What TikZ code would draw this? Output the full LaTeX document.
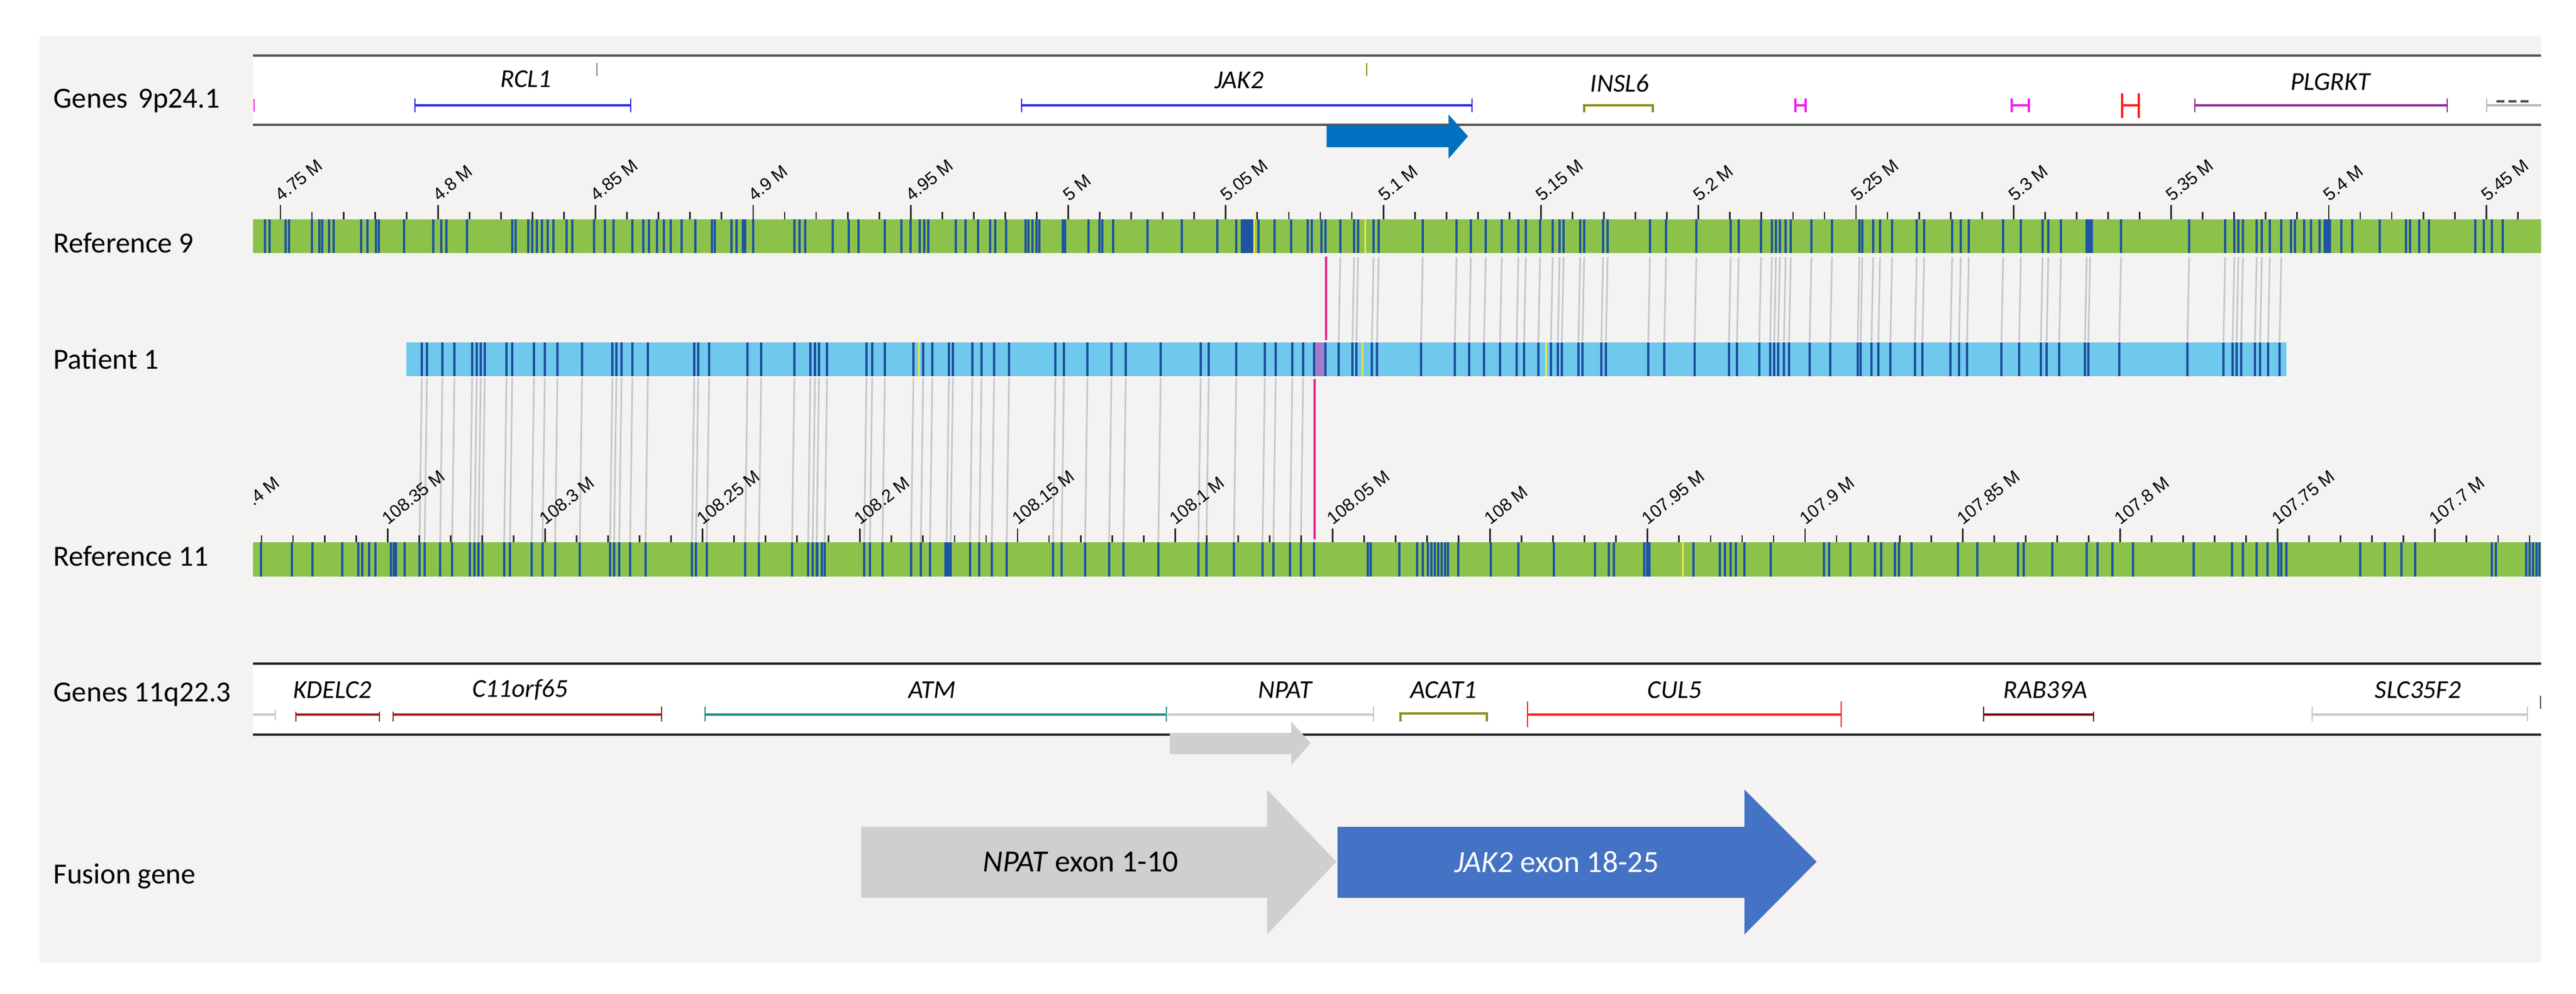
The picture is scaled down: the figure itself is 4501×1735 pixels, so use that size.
\documentclass[tikz,border=0pt]{standalone}
\usepackage{fontspec}
\usepackage{graphicx}
\setmainfont{Carlito}
\newfontfamily\arialf{Liberation Sans}
\definecolor{panel}{HTML}{F4F3F1}
\definecolor{refgreen}{HTML}{8DC24A}
\definecolor{markblue}{HTML}{1E55A3}
\definecolor{patblue}{HTML}{6FC9EC}
\definecolor{patmark}{HTML}{1D4E9E}
\definecolor{alngray}{HTML}{C6C6C6}
\definecolor{brkpink}{HTML}{EE2590}
\definecolor{brkpurple}{HTML}{A27BC9}
\definecolor{mkyellow}{HTML}{EEE54A}
\definecolor{genblue}{HTML}{2A2AF0}
\definecolor{genmag}{HTML}{F020F0}
\definecolor{genolive}{HTML}{8E8E1C}
\definecolor{genred}{HTML}{FF2020}
\definecolor{genpurple}{HTML}{902C90}
\definecolor{gendred}{HTML}{A01E1E}
\definecolor{genteal}{HTML}{1C8C8C}
\definecolor{genlgray}{HTML}{C8C8C8}
\definecolor{gendkred}{HTML}{7E0A0A}
\definecolor{arrowblue}{HTML}{0070C0}
\definecolor{fusgray}{HTML}{CFCFD0}
\definecolor{fusblue}{HTML}{4472C4}
\definecolor{tickc}{HTML}{2A2A2A}
\definecolor{boxlineA}{HTML}{555555}
\definecolor{boxlineB}{HTML}{222222}

\def\refnineonly{463,471,499,505,545,558,563,575,583,631,642,657,662,706,757,771,780,816,895,901,923,930,938,947,957,967,990,1000,1038,1057,1072,1105,1124,1134,1148,1160,1172,1191,1215,1244,1249,1278,1287,1298,1302,1316,1388,1397,1407,1455,1483,1500,1546,1575,1591,1607,1615,1622,1670,1687,1709,1730,1739,1758,1792,1797,1804,1811,1816,1857,1861,1902,1921,1926,1945,2005,2065,2127,2160,2199,2227,2256,2285,2292,2309,2316,4003,4010,4026,4038,4053,4091,4110,4158,4204,4211,4227,4244,4325,4340,4354,4373}
\def\sharednine{2342,2366,2373,2400,2409,2486,2545,2570,2596,2624,2653,2666,2691,2713,2725,2732,2761,2768,2801,2809,2883,2911,2964,3024,3038,3077,3096,3103,3110,3120,3129,3165,3201,3249,3254,3273,3285,3306,3349,3362,3411,3426,3440,3500,3531,3569,3579,3601,3646,3652,3706,3825,3888,3904,3911,3919,3943,3952,3966,3986}
\def\sharedeleven{737,746,773,794,825,833,840,847,885,895,933,952,974,1017,1070,1077,1086,1105,1132,1213,1220,1239,1306,1330,1388,1416,1424,1431,1445,1514,1524,1546,1596,1613,1629,1658,1665,1699,1715,1737,1763,1844,1859,1900,1942,1967,2028,2098,2112,2160,2210,2229,2258,2277}
\def\refelevenonly{456,510,546,598,626,633,645,656,683,688,692,707,1420,1428,1436,1441,2296,2390,2395,2445,2476,2486,2495,2501,2507,2513,2519,2525,2530,2548,2605,2653,2715,2787,2811,2820,2873,2878,2882,2959,3005,3014,3024,3033,3048,3094,3187,3196,3233,3276,3287,3311,3318,3340,3421,3455,3526,3536,3586,3646,3665,3691,3727,3833,3900,3919,3943,3962,3981,3986,3995,4124,4167,4196,4220,4354,4361,4414,4420,4426,4432,4437}

\begin{document}
\begin{tikzpicture}[x=0.01cm,y=-0.01cm,
  rowlab/.style={anchor=base west,inner sep=0pt,font=\fontsize{14.5pt}{17pt}\selectfont},
  genelab/.style={inner sep=0pt,font=\fontsize{12.8pt}{15pt}\selectfont\itshape},
  ticklab/.style={anchor=base west,inner sep=0pt,font=\arialf\fontsize{8.8pt}{10pt}\selectfont},
  tickline/.style={draw=tickc,line width=0.8pt},
  genebar/.style={line width=1.15pt},
  genecap/.style={line width=0.7pt},
  alnline/.style={draw=alngray,line width=0.8pt},
  brkline/.style={draw=brkpink,line width=0.9pt},
  fustext/.style={inner sep=0pt,font=\fontsize{15.3pt}{18pt}\selectfont}]
\useasboundingbox (0,0) rectangle (4501,1735);
\fill[white] (0,0) rectangle (4501,1735);
\fill[panel] (69,63) rectangle (4440,1681);

% ---------- Genes 9p24.1 box ----------
\fill[white] (442,97) rectangle (4440,218);
\draw[boxlineA,line width=1.1pt] (442,97) -- (4440,97);
\draw[boxlineA,line width=1.1pt] (442,218) -- (4440,218);
\draw[genmag,line width=0.8pt] (444,173) -- (444,195);
\draw[genebar,genblue] (725,184) -- (1102,184);
\draw[genecap,genblue] (725,172) -- (725,196) (1102,172) -- (1102,196);
\draw[genecap,gray] (1043,110) -- (1043,133);
\draw[genebar,genblue] (1785,184) -- (2572,184);
\draw[genecap,genblue] (1785,172) -- (1785,196) (2572,172) -- (2572,196);
\draw[genecap,genolive] (2388,110) -- (2388,133);
\draw[genebar,genolive] (2768,196) -- (2768,184) -- (2888,184) -- (2888,196);
\draw[genebar,genmag] (3137,184) -- (3155,184);
\draw[genecap,genmag,line width=1pt] (3137,172) -- (3137,196) (3155,172) -- (3155,196);
\draw[genebar,genmag] (3515,184) -- (3545,184);
\draw[genecap,genmag,line width=1pt] (3515,172) -- (3515,196) (3545,172) -- (3545,196);
\draw[genebar,genred] (3708,184) -- (3737,184);
\draw[genecap,genred,line width=1pt] (3708,163) -- (3708,206) (3737,163) -- (3737,206);
\draw[genebar,genpurple] (3835,184) -- (4276,184);
\draw[genecap,genpurple] (3835,172) -- (3835,196) (4276,172) -- (4276,196);
\draw[genebar,genlgray!80!gray] (4345,184) -- (4440,184);
\draw[genecap,genlgray!80!gray] (4345,172) -- (4345,196);
\draw[black!70,line width=0.9pt,dash pattern=on 4pt off 2pt] (4362,177) -- (4420,177);
\node[genelab] (rcl1) at (919,138) {RCL1};
\node[genelab] (jak2) at (2165,140) {JAK2};
\node[genelab] (insl6) at (2830,145) {INSL6};
\node[genelab] (plgrkt) at (4072,143) {PLGRKT};
\fill[arrowblue] (2318,220) -- (2531,220) -- (2531,200) -- (2565,238) -- (2531,277) -- (2531,257) -- (2318,257) -- cycle;

% ---------- Reference 9 ----------
\fill[refgreen] (442,383) rectangle (4440,442);
\foreach \x in \refnineonly {\fill[markblue] (\x-2,383) rectangle (\x+2,442);}
\foreach \x in \sharednine {\fill[markblue] (\x-2,383) rectangle (\x+2,442);}
\fill[markblue] (2168,383) rectangle (2190,442);
\fill[markblue] (3644,383) rectangle (3657,442);
\fill[markblue] (4060,383) rectangle (4073,442);
\fill[mkyellow] (2190,383) rectangle (2193,442);
\fill[mkyellow] (2384,383) rectangle (2387,442);
\foreach \k in {0,...,71}{
  \pgfmathsetmacro\tx{490+55.06*\k}
  \pgfmathtruncatemacro\mj{mod(\k,5)==0}
  \ifnum\mj=1 \draw[tickline] (\tx,358) -- (\tx,383); \else \draw[tickline] (\tx,370) -- (\tx,383); \fi
}
\foreach \i/\lab in {0/4.75,1/4.8,2/4.85,3/4.9,4/4.95,5/5,6/5.05,7/5.1,8/5.15,9/5.2,10/5.25,11/5.3,12/5.35,13/5.4,14/5.45}
  \node[ticklab] (tnine\i) at ({490+275.3*\i-12},352) {\rotatebox{38.5}{\lab{} M}};

% ---------- Patient 1 ----------
\foreach \x in \sharednine {\draw[alnline] (\x,449) -- (\x-3,596);}
\foreach \x in \sharedeleven {\draw[alnline] (\x,660) -- (\x-4,946);}
\fill[patblue] (710,598) rectangle (3995,657);
\foreach \x in \sharednine {\fill[patmark] (\x-5,598) rectangle (\x-1,657);}
\foreach \x in \sharedeleven {\fill[patmark] (\x-2,598) rectangle (\x+2,657);}
\fill[patmark] (2294,598) rectangle (2298,657);
\fill[patmark] (2314,598) rectangle (2318,657);
\fill[brkpurple] (2298,598) rectangle (2314,657);
\fill[mkyellow] (1604,598) rectangle (1607,657);
\fill[mkyellow] (2379,598) rectangle (2382,657);
\fill[mkyellow] (2700,598) rectangle (2703,657);
\coordinate (bk9) at (2317,448);
\coordinate (bkp1) at (2317,594);
\coordinate (bkp2) at (2297,662);
\coordinate (bk11) at (2297,942);
\draw[brkline] (bk9) -- (bkp1);
\draw[brkline] (bkp2) -- (bk11);

% ---------- Reference 11 ----------
\fill[refgreen] (442,947) rectangle (4440,1007);
\foreach \x in \refelevenonly {\fill[markblue] (\x-2,947) rectangle (\x+2,1007);}
\foreach \x in \sharedeleven {\fill[markblue] (\x-6,947) rectangle (\x-2,1007);}
\fill[markblue] (1650,947) rectangle (1663,1007);
\fill[mkyellow] (2939,947) rectangle (2942,1007);
\foreach \k in {1,...,73}{
  \pgfmathsetmacro\tx{402+55.04*\k}
  \pgfmathtruncatemacro\mj{mod(\k,5)==0}
  \ifnum\mj=1 \draw[tickline] (\tx,923) -- (\tx,947); \else \draw[tickline] (\tx,935) -- (\tx,947); \fi
}
\begin{scope}
\clip (442,700) rectangle (4440,947);
\foreach \i/\lab in {0/108.4,1/108.35,2/108.3,3/108.25,4/108.2,5/108.15,6/108.1,7/108.05,8/108,9/107.95,10/107.9,11/107.85,12/107.8,13/107.75,14/107.7}
  \node[ticklab] (televen\i) at ({402+275.2*\i-13},917) {\rotatebox{38.5}{\lab{} M}};
\end{scope}

% ---------- Genes 11q22.3 box ----------
\fill[white] (442,1159) rectangle (4440,1283);
\draw[boxlineB,line width=1.1pt] (442,1159) -- (4440,1159);
\draw[boxlineB,line width=1.1pt] (442,1283) -- (4440,1283);
\draw[genebar,genlgray] (442,1248) -- (481,1248);
\draw[genecap,genlgray] (481,1240) -- (481,1258);
\draw[genebar,gendred] (517,1248) -- (663,1248);
\draw[genecap,gendred] (517,1243) -- (517,1260) (663,1243) -- (663,1260);
\draw[genebar,gendred] (687,1248) -- (1156,1248);
\draw[genecap,gendred] (687,1243) -- (687,1260) (1156,1234) -- (1156,1260);
\draw[genebar,genteal] (1232,1248) -- (2038,1248);
\draw[genecap,genteal] (1232,1234) -- (1232,1260) (2038,1234) -- (2038,1260);
\draw[genebar,genlgray] (2038,1248) -- (2400,1248);
\draw[genecap,genlgray] (2400,1234) -- (2400,1260);
\draw[genebar,genolive] (2447,1260) -- (2447,1246) -- (2598,1246) -- (2598,1260);
\draw[genebar,genred] (2669,1248) -- (3217,1248);
\draw[genecap,genred] (2669,1225) -- (2669,1270) (3217,1225) -- (3217,1270);
\draw[genebar,gendkred] (3466,1248) -- (3658,1248);
\draw[genecap,gendkred] (3466,1234) -- (3466,1260) (3658,1243) -- (3658,1260);
\draw[genebar,genlgray] (4040,1248) -- (4416,1248);
\draw[genecap,genlgray] (4040,1234) -- (4040,1260) (4416,1234) -- (4416,1260);
\draw[genecap,black!70] (4439,1215) -- (4439,1238);
\node[genelab] (kdelc2) at (581,1205) {KDELC2};
\node[genelab] (c11orf65) at (909,1205) {C11orf65};
\node[genelab] (atm) at (1629,1205) {ATM};
\node[genelab] (npat) at (2245,1205) {NPAT};
\node[genelab] (acat1) at (2522,1205) {ACAT1};
\node[genelab] (cul5) at (2926,1205) {CUL5};
\node[genelab] (rab39a) at (3574,1205) {RAB39A};
\node[genelab] (slc35f2) at (4225,1205) {SLC35F2};
\fill[fusgray] (2044,1280) -- (2256,1280) -- (2256,1260) -- (2290,1298) -- (2256,1336) -- (2256,1317) -- (2044,1317) -- cycle;

% ---------- Fusion gene ----------
\fill[fusgray] (1505,1444) -- (2214,1444) -- (2214,1379) -- (2335,1505) -- (2214,1632) -- (2214,1568) -- (1505,1568) -- cycle;
\fill[fusblue] (2337,1444) -- (3048,1444) -- (3048,1379) -- (3174,1505) -- (3048,1632) -- (3048,1568) -- (2337,1568) -- cycle;
\node[fustext] (npatexon) at (1888,1505) {\textit{NPAT} exon 1-10};
\node[fustext,text=white] (jakexon) at (2720,1505) {\textit{JAK2} exon 18-25};

% ---------- Row labels ----------
\node[rowlab] (lgenes9) at (93,188) {Genes\hspace{0.35em}9p24.1};
\node[rowlab] (lref9) at (93,441) {Reference 9};
\node[rowlab] (lpat) at (93,644) {Patient 1};
\node[rowlab] (lref11) at (93,988) {Reference 11};
\node[rowlab] (lgenes11) at (93,1225) {Genes 11q22.3};
\node[rowlab] (lfusion) at (93,1543) {Fusion gene};
\end{tikzpicture}
\end{document}
